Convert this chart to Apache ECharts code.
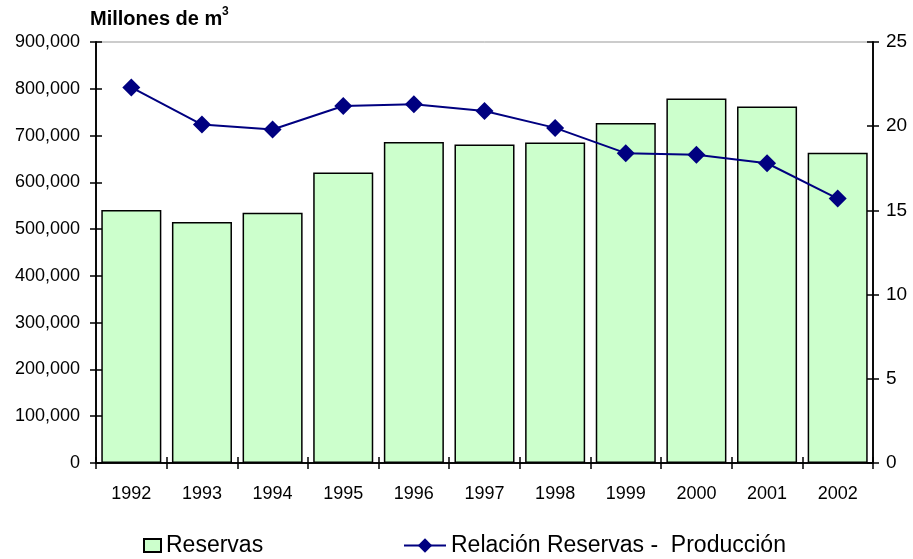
<!DOCTYPE html>
<html>
<head>
<meta charset="utf-8">
<script src="https://cdn.jsdelivr.net/npm/echarts@6/dist/echarts.min.js"></script>
<style>
html,body{margin:0;padding:0;background:#fff;}
#c{width:913px;height:559px;}
</style>
</head>
<body>
<div id="c"></div>
<script>
var years = ['1992','1993','1994','1995','1996','1997','1998','1999','2000','2001','2002'];
var reservas = [541000, 515000, 535000, 621000, 686000, 681000, 685000, 727000, 779000, 762000, 663000];
var relacion = [22.3, 20.1, 19.8, 21.2, 21.3, 20.9, 19.9, 18.4, 18.3, 17.8, 15.7];
var leftTicks = {min: 0, max: 900000, interval: 100000};
var rightTicks = {min: 0, max: 25, interval: 5};

var FONT = '"Liberation Sans", Arial, sans-serif';
var chart = echarts.init(document.getElementById('c'), null, {renderer: 'canvas'});

function yAx(pos, t, inside, showLabel, fmt) {
  return {
    type: 'value', position: pos, min: t.min, max: t.max, interval: t.interval,
    axisLine: {show: true, lineStyle: {color: '#000', width: 1.5}},
    axisTick: {show: true, inside: inside, length: 6, lineStyle: {color: '#000', width: 1.5}},
    axisLabel: {show: showLabel, color: '#000', fontFamily: FONT, fontSize: pos === 'left' ? 18 : 19,
      margin: pos === 'left' ? 16 : 13, formatter: fmt},
    splitLine: {show: false}
  };
}
function xAx(inside, showLabel) {
  return {
    type: 'category', data: years, position: 'bottom',
    axisLine: {show: true, lineStyle: {color: '#000', width: 1.5}},
    axisTick: {show: true, inside: inside, length: 6, alignWithLabel: false, lineStyle: {color: '#000', width: 1.5}},
    axisLabel: {show: showLabel, color: '#000', fontFamily: FONT, fontSize: 18, margin: 22},
    splitLine: {show: false}
  };
}

var option = {
  animation: false,
  backgroundColor: '#fff',
  grid: {left: 96, right: 40, top: 42, bottom: 96, containLabel: false, outerBoundsMode: 'none',
    show: true, borderColor: '#999', borderWidth: 1, backgroundColor: 'transparent'},
  graphic: [
    {type: 'text', left: 90, top: 9, style: {text: 'Millones de m', font: 'bold 20px ' + FONT, fill: '#000'}},
    {type: 'text', left: 222, top: 6, style: {text: '3', font: 'bold 12px ' + FONT, fill: '#000'}}
  ],
  legend: [
    {data: [{name: 'Reservas', icon: 'rect'}], left: 143, top: 534, padding: 0, itemWidth: 17, itemHeight: 13, itemGap: 3,
      textStyle: {fontFamily: FONT, fontSize: 23, color: '#000'}},
    {data: ['Relación Reservas -  Producción'], left: 403, top: 534, padding: 0, itemWidth: 42, itemHeight: 18,
      textStyle: {fontFamily: FONT, fontSize: 23, color: '#000'}}
  ],
  xAxis: [xAx(false, true), xAx(true, false)],
  yAxis: [
    yAx('left', leftTicks, false, true, function (v) { return v.toLocaleString('en-US'); }),
    yAx('right', rightTicks, false, true, function (v) { return String(v); }),
    yAx('left', leftTicks, true, false),
    yAx('right', rightTicks, true, false)
  ],
  series: [
    {name: 'Reservas', type: 'bar', data: reservas, xAxisIndex: 0, yAxisIndex: 0,
      barCategoryGap: '15%',
      itemStyle: {color: '#CCFFCC', borderColor: '#000', borderWidth: 1.5}},
    {name: 'Relación Reservas -  Producción', type: 'line', data: relacion, xAxisIndex: 0, yAxisIndex: 1,
      symbol: 'diamond', symbolSize: 18,
      lineStyle: {color: '#000080', width: 2},
      itemStyle: {color: '#000080'}, z: 5}
  ]
};
chart.setOption(option);
</script>
</body>
</html>
